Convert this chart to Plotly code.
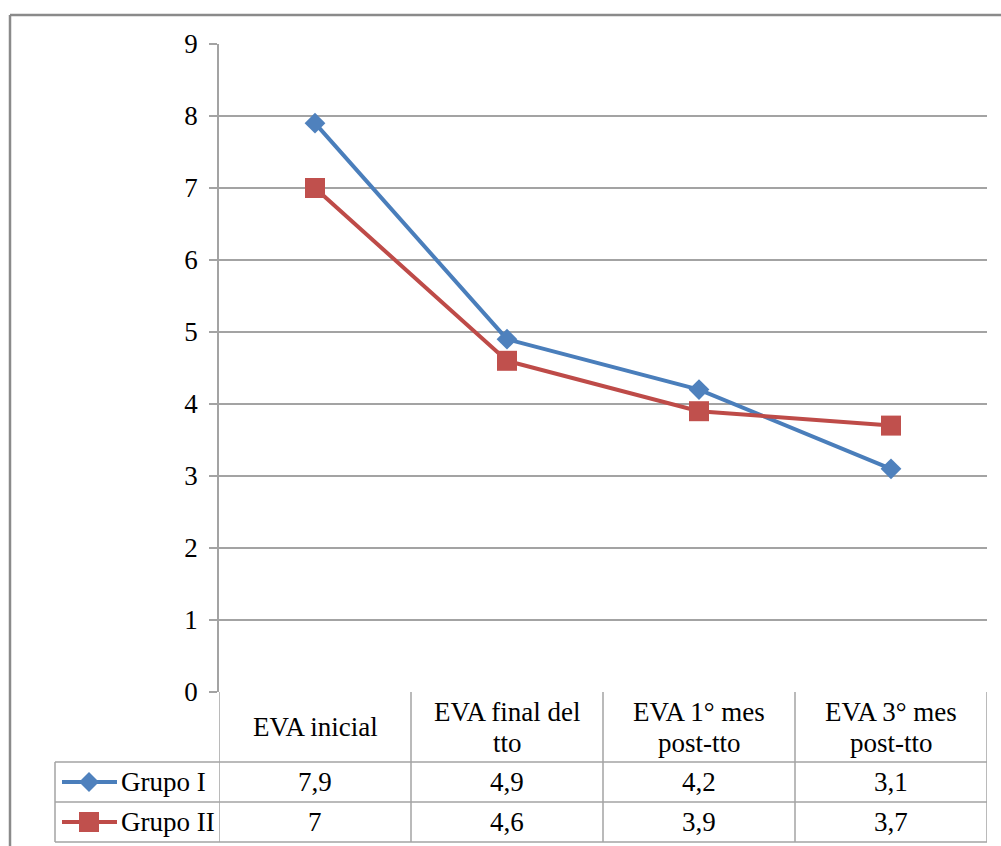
import plotly.graph_objects as go

categories = ["EVA inicial", "EVA final del tto", "EVA 1° mes post-tto", "EVA 3° mes post-tto"]
header_labels = ["EVA inicial", "EVA final del<br>tto", "EVA 1° mes<br>post-tto", "EVA 3° mes<br>post-tto"]
series_names = ["Grupo I", "Grupo II"]
grupo1 = [7.9, 4.9, 4.2, 3.1]
grupo2 = [7.0, 4.6, 3.9, 3.7]
grupo1_labels = ["7,9", "4,9", "4,2", "3,1"]
grupo2_labels = ["7", "4,6", "3,9", "3,7"]
y_ticks = [0, 1, 2, 3, 4, 5, 6, 7, 8, 9]

W, H = 1001, 846
FONT = "Liberation Serif"
FS = 27
GRID = "#a3a3a3"
BLUE_L, BLUE_M = "#4A7EBB", "#4F81BD"
RED_L, RED_M = "#BE4B48", "#C0504D"

def px(x):
    return x / W

def py(y):
    return 1 - y / H

x_idx = list(range(len(categories)))

fig = go.Figure()
fig.add_trace(go.Scatter(
    x=x_idx, y=grupo1, mode="lines+markers", name=series_names[0],
    line=dict(color=BLUE_L, width=4),
    marker=dict(symbol="diamond", size=16, color=BLUE_M, line=dict(width=0)),
    showlegend=False, cliponaxis=False))
fig.add_trace(go.Scatter(
    x=x_idx, y=grupo2, mode="lines+markers", name=series_names[1],
    line=dict(color=RED_L, width=4),
    marker=dict(symbol="square", size=20, color=RED_M, line=dict(width=0)),
    showlegend=False, cliponaxis=False))

plot_left, plot_right = 219, 987
plot_top, plot_bottom = 44, 692
row_h = 762
row_1 = 802
row_2 = 842
leg_left = 55

shapes = []
line_style = dict(color=GRID, width=1.5)
# outer border (left and top)
shapes.append(dict(type="line", xref="paper", yref="paper", x0=px(10), x1=px(10), y0=py(15), y1=py(H + 5),
                   line=dict(color="#8a8a8a", width=2.5)))
shapes.append(dict(type="line", xref="paper", yref="paper", x0=px(10), x1=px(W + 5), y0=py(15), y1=py(15),
                   line=dict(color="#8a8a8a", width=2.5)))
# table vertical lines at category boundaries
for b in [i - 0.5 for i in range(len(categories) + 1)]:
    shapes.append(dict(type="line", xref="x", yref="paper", x0=b, x1=b, y0=py(plot_bottom), y1=py(row_2),
                       line=line_style))
# legend column left edge
shapes.append(dict(type="line", xref="paper", yref="paper", x0=px(leg_left), x1=px(leg_left),
                   y0=py(row_h), y1=py(row_2), line=line_style))
# horizontal table lines
for yy in [row_h, row_1, row_2]:
    shapes.append(dict(type="line", xref="paper", yref="paper", x0=px(leg_left), x1=px(plot_right),
                       y0=py(yy), y1=py(yy), line=line_style))

# legend keys in table
row_centers = [(row_h + row_1) / 2, (row_1 + row_2) / 2]
for rc, col_l, col_m, sym in [(row_centers[0], BLUE_L, BLUE_M, "diamond"), (row_centers[1], RED_L, RED_M, "square")]:
    shapes.append(dict(type="line", xref="paper", yref="paper", x0=px(62), x1=px(117), y0=py(rc), y1=py(rc),
                       line=dict(color=col_l, width=4)))
    cx = 89
    r = 10
    if sym == "diamond":
        path = f"M {px(cx - r)} {py(rc)} L {px(cx)} {py(rc - r)} L {px(cx + r)} {py(rc)} L {px(cx)} {py(rc + r)} Z"
        shapes.append(dict(type="path", xref="paper", yref="paper", path=path, fillcolor=col_m,
                           line=dict(width=0)))
    else:
        shapes.append(dict(type="rect", xref="paper", yref="paper", x0=px(cx - r), x1=px(cx + r),
                           y0=py(rc - r), y1=py(rc + r), fillcolor=col_m, line=dict(width=0)))

annotations = []
header_mid = (plot_bottom + row_h) / 2
line_gap = 31
for i, lab in enumerate(header_labels):
    parts = lab.split("<br>")
    n = len(parts)
    for k, part in enumerate(parts):
        yc = header_mid + (k - (n - 1) / 2) * line_gap
        annotations.append(dict(x=i, y=py(yc), xref="x", yref="paper", text=part,
                                showarrow=False, font=dict(family=FONT, size=FS, color="black"),
                                xanchor="center", yanchor="middle", align="center"))
for labels, rc in [(grupo1_labels, row_centers[0]), (grupo2_labels, row_centers[1])]:
    for i, lab in enumerate(labels):
        annotations.append(dict(x=i, y=py(rc), xref="x", yref="paper", text=lab, showarrow=False,
                                font=dict(family=FONT, size=FS, color="black"),
                                xanchor="center", yanchor="middle"))
for name, rc in zip(series_names, row_centers):
    annotations.append(dict(x=px(119), y=py(rc), xref="paper", yref="paper", text=name, showarrow=False,
                            font=dict(family=FONT, size=FS, color="black"),
                            xanchor="left", yanchor="middle"))

fig.update_layout(
    width=W, height=H,
    margin=dict(l=0, r=0, t=0, b=0, autoexpand=False),
    paper_bgcolor="white", plot_bgcolor="white",
    font=dict(family=FONT, size=FS, color="black"),
    xaxis=dict(domain=[px(plot_left), px(plot_right)], range=[-0.5, len(categories) - 0.5],
               showticklabels=False, showgrid=False, zeroline=False, showline=False, ticks=""),
    yaxis=dict(domain=[py(plot_bottom), py(plot_top)], range=[0, 9], tickvals=y_ticks,
               showgrid=True, gridcolor=GRID, gridwidth=1.5, zeroline=False,
               showline=True, linecolor=GRID, linewidth=1.5,
               ticks="outside", ticklen=8, tickcolor=GRID, tickwidth=1.5,
               ticklabelstandoff=6,
               tickfont=dict(family=FONT, size=FS, color="black")),
    shapes=shapes,
    annotations=annotations,
)

fig.write_html("out.html")
